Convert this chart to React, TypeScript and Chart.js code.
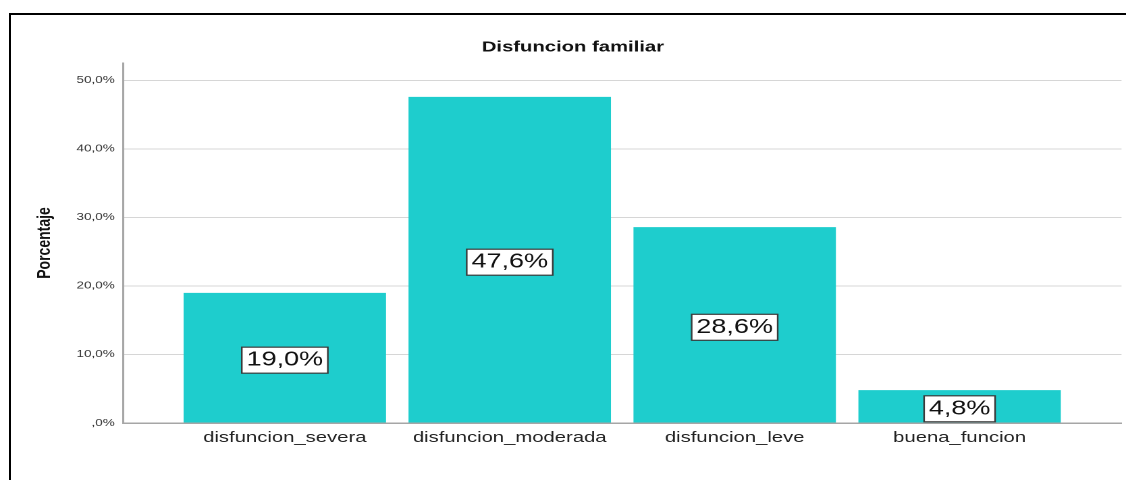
import { useEffect, useRef } from 'react';
import { Chart, registerables } from 'chart.js';

Chart.register(...registerables);

const chartTitle = 'Disfuncion familiar';
const yAxisTitle = 'Porcentaje';
const categories = ['disfuncion_severa', 'disfuncion_moderada', 'disfuncion_leve', 'buena_funcion'];
const percentages = [19.0, 47.6, 28.6, 4.8];
const yTickValues = [0, 10, 20, 30, 40, 50];
const yMax = 52.55;

const LOGICAL_W = 834;
const LOGICAL_H = 480;
const STRETCH = 1126 / LOGICAL_W;
const FONT = "'Liberation Sans', Arial, Helvetica, sans-serif";

const fmt = (v: number) => (v === 0 ? ',0%' : v.toFixed(1).replace('.', ',') + '%');

const boxLabelPlugin = {
  id: 'boxLabels',
  afterDatasetsDraw(chart: any) {
    const ctx = chart.ctx;
    const meta = chart.getDatasetMeta(0);
    ctx.save();
    ctx.font = `20px ${FONT}`;
    ctx.textAlign = 'center';
    ctx.textBaseline = 'middle';
    meta.data.forEach((el: any, i: number) => {
      const { x, y, base } = el.getProps(['x', 'y', 'base'], true);
      const cy = (y + base) / 2 + 2.5;
      const text = fmt(percentages[i]);
      const w = ctx.measureText(text).width + 7;
      const h = 26;
      ctx.fillStyle = '#ffffff';
      ctx.fillRect(x - w / 2, cy - h / 2, w, h);
      ctx.strokeStyle = '#3a3a3a';
      ctx.lineWidth = 1.2;
      ctx.strokeRect(x - w / 2, cy - h / 2, w, h);
      ctx.fillStyle = '#111111';
      ctx.fillText(text, x, cy);
    });
    ctx.restore();
  },
};

export default function App() {
  const ref = useRef<HTMLCanvasElement | null>(null);

  useEffect(() => {
    if (!ref.current) return;
    const chart = new Chart(ref.current, {
      type: 'bar',
      data: {
        datasets: [
          {
            label: yAxisTitle,
            data: percentages.map((v, i) => ({ x: i, y: v })),
            backgroundColor: '#1ecdcd',
            borderWidth: 0,
            barPercentage: 0.9,
            categoryPercentage: 1,
          },
        ],
      },
      options: {
        responsive: false,
        animation: false,
        devicePixelRatio: 2,
        layout: { padding: { left: 18, right: 3.3, top: 0, bottom: 0 } },
        plugins: {
          legend: { display: false },
          tooltip: { enabled: false },
          title: {
            display: true,
            text: chartTitle,
            color: '#111111',
            font: { family: FONT, size: 15, weight: 'bold' },
            padding: { top: 38.5, bottom: 6.5 },
          },
        },
        scales: {
          x: {
            type: 'linear',
            offset: false,
            min: -0.72,
            max: 3.72,
            grid: { display: false, drawTicks: false, offset: false },
            border: { display: true, color: '#a6a6a6', width: 1.5 },
            afterBuildTicks: (s: any) => {
              s.ticks = categories.map((_, i) => ({ value: i }));
            },
            afterFit: (s: any) => {
              s.height = 57;
            },
            ticks: {
              autoSkip: false,
              maxRotation: 0,
              minRotation: 0,
              padding: 6,
              color: '#222222',
              font: { family: FONT, size: 15 },
              callback: (v: any) => categories[v] ?? '',
            },
          },
          y: {
            min: 0,
            max: yMax,
            afterBuildTicks: (s: any) => {
              s.ticks = yTickValues.map((value) => ({ value }));
            },
            afterFit: (s: any) => {
              s.width = 73;
            },
            grid: { color: '#d6d6d6', lineWidth: 1, drawTicks: false },
            border: { display: true, color: '#a6a6a6', width: 1.5 },
            ticks: {
              padding: 6,
              color: '#333333',
              font: { family: FONT, size: 10 },
              callback: (v: any) => fmt(Number(v)),
            },
            title: {
              display: true,
              text: yAxisTitle,
              color: '#111111',
              font: { family: FONT, size: 14, weight: 'bold' },
              padding: { top: 6.9, bottom: 0 },
            },
          },
        },
      } as any,
      plugins: [boxLabelPlugin],
    });
    return () => chart.destroy();
  }, []);

  return (
    <div
      style={{
        position: 'fixed',
        left: 0,
        top: 0,
        width: 1126,
        height: 480,
        overflow: 'hidden',
        background: '#ffffff',
      }}
    >
      <div
        style={{
          position: 'absolute',
          left: 0,
          top: 0,
          width: LOGICAL_W,
          height: LOGICAL_H,
          transform: `scaleX(${STRETCH})`,
          transformOrigin: '0 0',
        }}
      >
        <canvas
          ref={ref}
          width={LOGICAL_W}
          height={LOGICAL_H}
          style={{ display: 'block', width: LOGICAL_W, height: LOGICAL_H }}
        />
      </div>
      <div
        style={{
          position: 'absolute',
          left: 9,
          top: 13,
          width: 1300,
          height: 700,
          border: '2px solid #000000',
          boxSizing: 'border-box',
          pointerEvents: 'none',
        }}
      />
    </div>
  );
}
